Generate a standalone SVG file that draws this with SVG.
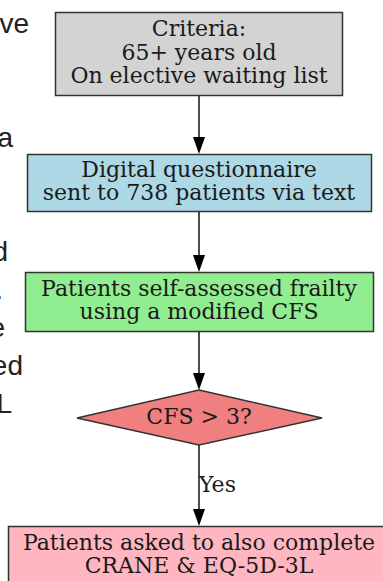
<svg xmlns="http://www.w3.org/2000/svg" width="383" height="581" viewBox="0 0 383 581">
<style>
.bg{fill:#ffffff}
.node{stroke:#333333;stroke-width:1.5}
.lbl{font-family:"DejaVu Serif",serif;font-size:22px;fill:#1a1a1a;text-anchor:middle}
.edge{stroke:#000000;stroke-width:1.4;fill:none}
.frag{font-family:"Liberation Sans",Arial,sans-serif;font-size:28px;fill:#222222;text-anchor:end}
</style>
<rect class="bg" x="0" y="0" width="383" height="581"/>
<g id="side-text">
<text class="frag" x="29" y="33">ve</text>
<text class="frag" x="13" y="147">a</text>
<text class="frag" x="8" y="261">d</text>
<text class="frag" x="3" y="299">.</text>
<text class="frag" x="5" y="337">e</text>
<text class="frag" x="23" y="375">ed</text>
<text class="frag" x="12" y="413">L</text>
</g>
<g id="connectors">
<path class="edge" d="M199,96 V137"/>
<path d="M193,137 L205,137 L199,154 Z" fill="#000"/>
<path class="edge" d="M199,212 V255"/>
<path d="M193,255 L205,255 L199,272 Z" fill="#000"/>
<path class="edge" d="M199,332 V373"/>
<path d="M193,373 L205,373 L199,390 Z" fill="#000"/>
<path class="edge" d="M199,445 V509"/>
<path d="M193,509 L205,509 L199,526 Z" fill="#000"/>
<text class="lbl" x="199" y="492" style="text-anchor:start">Yes</text>
</g>
<g id="criteria">
<rect class="node" x="55.5" y="12.5" width="287" height="83" fill="#d3d3d3"/>
<text class="lbl" x="199" y="36">Criteria:</text>
<text class="lbl" x="199" y="60">65+ years old</text>
<text class="lbl" x="199" y="83">On elective waiting list</text>
</g>
<g id="questionnaire">
<rect class="node" x="27.5" y="154.5" width="344" height="57" fill="#add8e6"/>
<text class="lbl" x="199" y="177">Digital questionnaire</text>
<text class="lbl" x="199" y="200">sent to 738 patients via text</text>
</g>
<g id="selfassess">
<rect class="node" x="25.5" y="272.5" width="348" height="59" fill="#90ee90"/>
<text class="lbl" x="199" y="296">Patients self-assessed frailty</text>
<text class="lbl" x="199" y="319">using a modified CFS</text>
</g>
<g id="decision">
<polygon class="node" points="199,390 322,418 199,445 77,418" fill="#f08080"/>
<text class="lbl" x="199" y="424">CFS &gt; 3?</text>
</g>
<g id="complete">
<rect class="node" x="8.5" y="526.5" width="382" height="60" fill="#ffb6c1"/>
<text class="lbl" x="199" y="550">Patients asked to also complete</text>
<text class="lbl" x="199" y="573">CRANE &amp; EQ-5D-3L</text>
</g>
</svg>
